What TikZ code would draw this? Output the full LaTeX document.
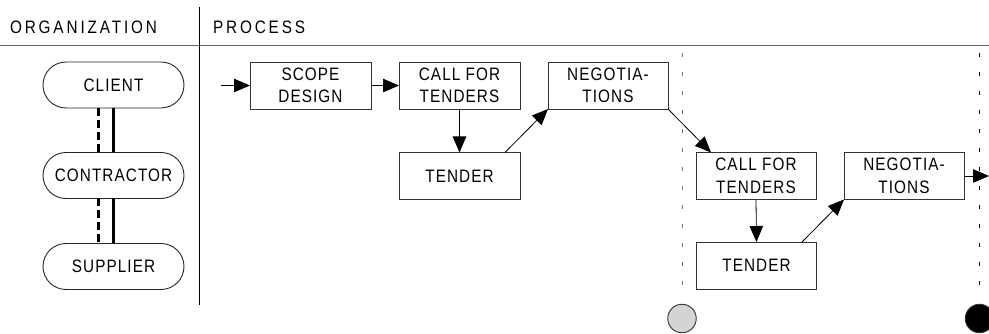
\documentclass[tikz,border=0pt]{standalone}
\usepackage{fontspec}
\setmainfont{Liberation Sans}
\newfontfamily\lsfont[LetterSpace=6,FakeStretch=0.85]{Liberation Sans}
\newfontfamily\hdfont[LetterSpace=16,FakeStretch=0.85]{Liberation Sans}
\usetikzlibrary{arrows.meta,shapes.misc}
\begin{document}
\begin{tikzpicture}[x=1pt,y=-1pt,
  every node/.style={inner sep=0pt,outer sep=0pt},
  role/.style={rounded rectangle,draw=black!85,line width=0.9pt,
    minimum width=141pt,minimum height=46pt,
    font=\lsfont\fontsize{18}{22}\selectfont},
  stepbox/.style={rectangle,draw=black!80,line width=0.9pt,
    minimum width=121pt,minimum height=47pt,align=center,
    font=\lsfont\fontsize{18}{22.5}\selectfont},
  flow/.style={-{Triangle[length=16pt,width=13.5pt]},line width=0.8pt,black},
  header/.style={anchor=base west,font=\hdfont\fontsize{18}{22}\selectfont},
  milestone/.style={line width=1pt,dash pattern=on 4pt off 15pt},
  gate/.style={circle,draw=black!80,line width=0.9pt,minimum size=28.5pt}]
\useasboundingbox (0,0) rectangle (989,334);

% column headers and dividers
\node[header] (orghead) at (10,34) {ORGANIZATION};
\node[header] (prochead) at (213,34) {PROCESS};
\draw[black!60,line width=1.8pt] (0,45.5) -- (989,45.5);
\draw[black,line width=0.9pt] (199,7) -- (199,305);

% organisation roles
\node[role] (client) at (113.5,85) {CLIENT};
\node[role] (contractor) at (113.5,175.5) {CONTRACTOR};
\node[role] (supplier) at (113.5,266.5) {SUPPLIER};
\draw[line width=3pt,dash pattern=on 8pt off 4pt]
  ([xshift=-15.5pt]client.south) -- ([xshift=-15.5pt]contractor.north);
\draw[line width=3pt] (client.south) -- (contractor.north);
\draw[line width=3pt,dash pattern=on 8pt off 4pt]
  ([xshift=-15.5pt]contractor.south) -- ([xshift=-15.5pt]supplier.north);
\draw[line width=3pt] (contractor.south) -- (supplier.north);

% process steps
\node[stepbox] (scope) at (310.5,85.5) {SCOPE\\DESIGN};
\node[stepbox] (call1) at (459.5,85.5) {CALL FOR\\TENDERS};
\node[stepbox] (tender1) at (459.5,176) {TENDER};
\node[stepbox,minimum width=120pt] (neg1) at (608,85.5) {NEGOTIA-\\TIONS};
\node[stepbox,minimum width=120pt] (call2) at (756,176) {CALL FOR\\TENDERS};
\node[stepbox,minimum width=120pt] (tender2) at (756.5,265.5) {TENDER};
\node[stepbox,minimum width=120pt] (neg2) at (904,176) {NEGOTIA-\\TIONS};

% milestones
\coordinate (m1top) at (682,53);
\coordinate (m1bot) at (682,292);
\coordinate (m2top) at (979.5,53);
\coordinate (m2bot) at (979.5,292);
\draw[milestone,black!55] (m1top) -- (m1bot);
\draw[milestone,black] (m2top) -- (m2bot);
\node[gate,fill=black!17] (gate1) at (682,318.5) {};
\node[gate,fill=black] (gate2) at (979.5,318.5) {};

% flow
\coordinate (start) at (221,85.5);
\coordinate (exit) at (989,176);
\draw[flow] (start) -- (scope.west);
\draw[flow] (scope.east) -- (call1.west);
\draw[flow] (call1.south) -- (tender1.north);
\draw[flow] ([xshift=45.5pt]tender1.north) -- (neg1.south west);
\draw[flow] (neg1.south east) -- ([xshift=15pt]call2.north west);
\draw[flow] (call2.south) -- (tender2.north);
\draw[flow] ([xshift=45.5pt]tender2.north) -- (neg2.south west);
\draw[flow] (neg2.east) -- (exit);
\end{tikzpicture}
\end{document}
